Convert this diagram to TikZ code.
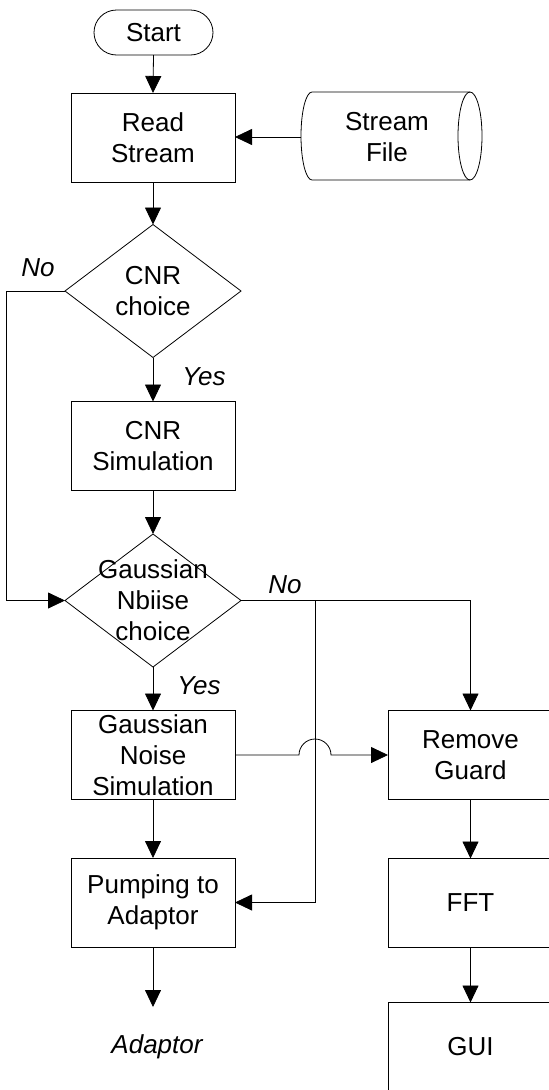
\documentclass[tikz,border=0pt]{standalone}
\usepackage{fontspec}
\setmainfont{Liberation Sans}
\usetikzlibrary{arrows.meta,shapes.geometric}
\begin{document}
\begin{tikzpicture}[x=1pt,y=-1pt,
  every node/.style={font=\fontsize{26}{31}\selectfont, inner sep=0pt, outer sep=0pt},
  proc/.style={draw, rectangle, minimum width=164pt, minimum height=89pt, align=center, line width=0.8pt},
  dec/.style={draw, diamond, minimum width=176pt, minimum height=133pt, line width=0.8pt},
  dectext/.style={align=center},
  lbl/.style={font=\fontsize{26}{31}\selectfont\itshape},
  conn/.style={line width=0.8pt, -{Triangle[length=17pt,width=16pt]}},
  plain/.style={line width=0.8pt}]
\useasboundingbox (0,0) rectangle (549,1090);

% nodes
\node[draw, line width=0.8pt, rounded corners=22.5pt, minimum width=119pt, minimum height=45pt] (start) at (153.5,32.5) {Start};
\node[proc] (rs) at (153,137.5) {Read\\Stream};
\node[align=center, minimum width=172pt, minimum height=88pt] (sf) at (387,137) {Stream\\File};
\draw[plain] (470,92) -- (312,92) arc[start angle=90, end angle=270, x radius=11pt, y radius=44pt] -- (470,180);
\draw[plain] (470,136) ellipse[x radius=12pt, y radius=44pt];

\node[dec] (cnr) at (153,291) {};
\node[dectext] (cnrt) at (153,291) {CNR\\choice};
\node[proc] (cs) at (153,446) {CNR\\Simulation};
\node[dec] (gd) at (153,600.5) {};
\node[dectext] (gdt) at (153,600) {Gaussian\\Nbiise\\choice};
\node[proc] (gns) at (153,755) {Gaussian\\Noise\\Simulation};
\node[proc] (pump) at (153,902.5) {Pumping to\\Adaptor};
\node[lbl] (adp) at (157,1047) {Adaptor};

\node[proc, minimum width=165pt] (rg) at (470.5,755) {Remove\\Guard};
\node[proc, minimum width=165pt] (fft) at (470.5,903) {FFT};
\node[proc, minimum width=165pt] (gui) at (470.5,1047) {GUI};

% labels
\node[lbl] (no1) at (38,268) {No};
\node[lbl] (yes1) at (204,377) {Yes};
\node[lbl] (no2) at (285,585) {No};
\node[lbl] (yes2) at (199,686) {Yes};

% coordinates
\coordinate (lp) at (6,291);
\coordinate (br) at (315,600.5);
\coordinate (adpin) at (153,1007);

% connectors
\draw[conn] (start.south) -- (rs.north);
\draw[conn] (sf.west) -- (rs.east |- sf.west);
\draw[conn] (rs.south) -- (cnr.north);
\draw[conn] (cnr.south) -- (cs.north);
\draw[conn] (cs.south) -- (gd.north);
\draw[conn] (cnr.west) -- (lp) |- (gd.west);
\draw[conn] (gd.south) -- (gns.north);
\draw[conn] (gns.south) -- (pump.north);
\draw[conn] (pump.south) -- (adpin);
\draw[conn] (gd.east) -| (rg.north);
\draw[conn] (br) |- (pump.east);
\draw[conn] (gns.east) -- (299,755) arc[start angle=180, end angle=0, radius=16pt] -- (rg.west);
\draw[conn] (rg.south) -- (fft.north);
\draw[conn] (fft.south) -- (gui.north);
\end{tikzpicture}
\end{document}
